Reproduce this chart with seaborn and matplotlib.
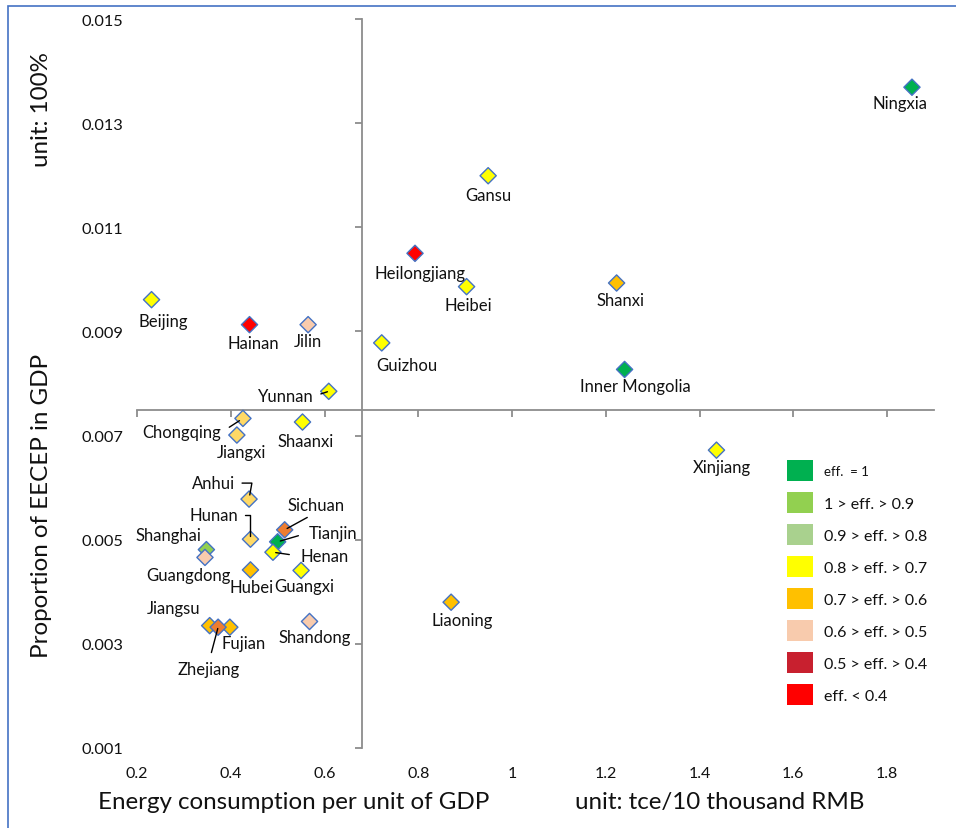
import matplotlib
matplotlib.use("Agg")
import matplotlib.pyplot as plt
from matplotlib.patches import Patch, Rectangle
from matplotlib.ticker import FuncFormatter
import pandas as pd
import seaborn as sns

# ---- data -------------------------------------------------------------
provinces = ["Ningxia", "Gansu", "Heilongjiang", "Heibei", "Shanxi", "Guizhou",
             "Inner Mongolia", "Xinjiang", "Liaoning", "Beijing", "Hainan", "Jilin",
             "Yunnan", "Chongqing", "Jiangxi", "Shaanxi", "Anhui", "Hunan",
             "Sichuan", "Tianjin", "Henan", "Shanghai", "Guangdong", "Hubei",
             "Guangxi", "Shandong", "Jiangsu", "Fujian", "Zhejiang"]
energy = [1.853, 0.949, 0.793, 0.903, 1.223, 0.722,
          1.240, 1.436, 0.870, 0.231, 0.440, 0.565,
          0.609, 0.426, 0.413, 0.553, 0.439, 0.442,
          0.515, 0.500, 0.490, 0.348, 0.345, 0.442,
          0.550, 0.568, 0.355, 0.398, 0.373]
eecep_share = [0.01369, 0.01199, 0.01050, 0.00986, 0.00993, 0.00878,
               0.00827, 0.00672, 0.00380, 0.00961, 0.00913, 0.00913,
               0.00785, 0.00733, 0.00701, 0.00726, 0.00578, 0.00501,
               0.00519, 0.00496, 0.00476, 0.00481, 0.00466, 0.00442,
               0.00441, 0.00343, 0.00335, 0.00332, 0.00332]
fill_colors = ["#00B050", "#FFFF00", "#FF0000", "#FFFF00", "#FFC000", "#FFFF00",
               "#00B050", "#FFFF00", "#FFC000", "#FFFF00", "#FF0000", "#F8CBAD",
               "#FFFF00", "#FFD966", "#FFD966", "#FFFF00", "#FFD966", "#FFD966",
               "#ED7D31", "#00B050", "#FFFF00", "#92D050", "#F8CBAD", "#FFC000",
               "#FFFF00", "#F8CBAD", "#FFC000", "#FFC000", "#ED7D31"]

x_ticks = [0.2, 0.4, 0.6, 0.8, 1.0, 1.2, 1.4, 1.6, 1.8]
y_ticks = [0.001, 0.003, 0.005, 0.007, 0.009, 0.011, 0.013, 0.015]
axis_cross = (0.68, 0.0075)

legend_labels = ["eff.  = 1", "1 > eff. > 0.9", "0.9 > eff. > 0.8", "0.8 > eff. > 0.7",
                 "0.7 > eff. > 0.6", "0.6 > eff. > 0.5", "0.5 > eff. > 0.4", "eff. < 0.4"]
legend_colors = ["#00B050", "#92D050", "#A9D18E", "#FFFF00",
                 "#FFC000", "#F8CBAD", "#C8202F", "#FF0000"]

# ---- label placement (offsets in pixels: right, down) ------------------
label_offsets = {
    "Ningxia": (-12, 16), "Gansu": (0, 19), "Heilongjiang": (5, 20), "Heibei": (2, 18),
    "Shanxi": (4, 17), "Guizhou": (25, 22), "Inner Mongolia": (11, 17), "Xinjiang": (5, 17),
    "Liaoning": (11, 18), "Beijing": (12, 21), "Hainan": (4, 18), "Jilin": (0, 16),
    "Yunnan": (-43, 5), "Chongqing": (-61, 14), "Jiangxi": (5, 17), "Shaanxi": (3, 19),
    "Anhui": (-36, -16), "Hunan": (-37, -24), "Sichuan": (31, -25), "Tianjin": (55, -9),
    "Henan": (52, 4), "Shanghai": (-38, -15), "Guangdong": (-17, 18), "Hubei": (1, 17),
    "Guangxi": (3, 16), "Shandong": (5, 16), "Jiangsu": (-36, -18), "Fujian": (14, 16),
    "Zhejiang": (-9, 42),
}
leaders = {
    "Yunnan": dict(relpos=(1, 0.5), shrinkA=3, shrinkB=1),
    "Chongqing": dict(relpos=(1, 0.5), shrinkA=4, shrinkB=3),
    "Anhui": dict(relpos=(1, 0.5), shrinkA=3, shrinkB=3,
                  connectionstyle="angle,angleA=0,angleB=80,rad=0"),
    "Hunan": dict(relpos=(1, 0.5), shrinkA=3, shrinkB=2,
                  connectionstyle="angle,angleA=0,angleB=90,rad=0"),
    "Sichuan": dict(relpos=(0.5, 0), shrinkA=2, shrinkB=2),
    "Tianjin": dict(relpos=(0, 0.5), shrinkA=5, shrinkB=2),
    "Henan": dict(relpos=(0, 0.5), shrinkA=6, shrinkB=2),
    "Zhejiang": dict(relpos=(0.5, 1), shrinkA=4, shrinkB=1),
}

# ---- style -------------------------------------------------------------
sns.set_theme(style="white")
plt.rcParams["font.family"] = ["Lato", "DejaVu Sans"]
axis_grey = "#8C8C8C"

fig = plt.figure(figsize=(9.56, 8.29), dpi=100)
ax = fig.add_axes([137 / 956, 1 - 749 / 829, (934 - 137) / 956, (749 - 20) / 829])

df = pd.DataFrame({"province": provinces, "energy": energy, "share": eecep_share})
palette = dict(zip(provinces, fill_colors))
sns.scatterplot(data=df, x="energy", y="share", hue="province", palette=palette,
                marker="D", s=68, edgecolor="#4472C4", linewidth=1.0,
                legend=False, ax=ax, zorder=3)

ax.set_xlim(0.2, 1.9)
ax.set_ylim(0.001, 0.015)
ax.set_xlabel("")
ax.set_ylabel("")

# crossing axes
for side in ("top", "right"):
    ax.spines[side].set_visible(False)
ax.spines["left"].set_position(("data", axis_cross[0]))
ax.spines["bottom"].set_position(("data", axis_cross[1]))
for side in ("left", "bottom"):
    ax.spines[side].set_color(axis_grey)
    ax.spines[side].set_linewidth(1.3)
    ax.spines[side].set_zorder(1)
ax.set_xticks(x_ticks)
ax.set_yticks(y_ticks)
ax.tick_params(axis="both", direction="out", length=5, width=1.3, color=axis_grey,
               labelleft=False, labelbottom=False, left=True, bottom=True)

# tick labels along the low edges
sec_x = ax.secondary_xaxis("bottom")
sec_x.set_xticks(x_ticks)
sec_x.xaxis.set_major_formatter(FuncFormatter(lambda v, p: f"{v:g}"))
sec_x.tick_params(length=0, pad=13, labelsize=11.5, labelcolor="#111111")
sec_y = ax.secondary_yaxis("left")
sec_y.set_yticks(y_ticks)
sec_y.yaxis.set_major_formatter(FuncFormatter(lambda v, p: f"{v:.3f}"))
sec_y.tick_params(length=0, pad=10, labelsize=11.8, labelcolor="#111111")
for sec in (sec_x, sec_y):
    for sp in sec.spines.values():
        sp.set_visible(False)

# province labels
for name, xv, yv in zip(provinces, energy, eecep_share):
    dx, dy = label_offsets[name]
    kw = {}
    if name in leaders:
        props = dict(arrowstyle="-", color="black", lw=1.0)
        props.update(leaders[name])
        kw["arrowprops"] = props
    ax.annotate(name, xy=(xv, yv), xytext=(dx, -dy), textcoords="offset pixels",
                ha="center", va="center", fontsize=12, color="#111111",
                zorder=4, **kw)

# efficiency legend
handles = [Patch(facecolor=c, edgecolor="none") for c in legend_colors]
leg = ax.legend(handles, legend_labels, loc="upper left",
                bbox_to_anchor=(787 / 956, 1 - 461 / 829),
                bbox_transform=fig.transFigure, frameon=False, fontsize=11.5,
                handlelength=1.6, handleheight=1.6, handletextpad=0.7,
                labelspacing=0.72, borderpad=0, borderaxespad=0)
leg.get_texts()[0].set_fontsize(9.5)
for t in leg.get_texts():
    t.set_color("#111111")

# axis titles
title_kw = dict(fontsize=17.4, color="#111111", ha="center", va="center")
fig.text(294 / 956, 1 - 803 / 829, "Energy consumption per unit of GDP", **title_kw)
fig.text(720 / 956, 1 - 803 / 829, "unit: tce/10 thousand RMB", **title_kw)
fig.text(42 / 956, 1 - 506 / 829, "Proportion of EECEP in GDP", rotation=90, **title_kw)
fig.text(42 / 956, 1 - 110 / 829, "unit: 100%", rotation=90, **title_kw)

# chart frame
fig.add_artist(Rectangle((8 / 956, -0.1), 2, 1.1 - 7 / 829, transform=fig.transFigure,
                         fill=False, edgecolor="#4472C4", linewidth=1.2))

fig.savefig("out.png", dpi=100)
